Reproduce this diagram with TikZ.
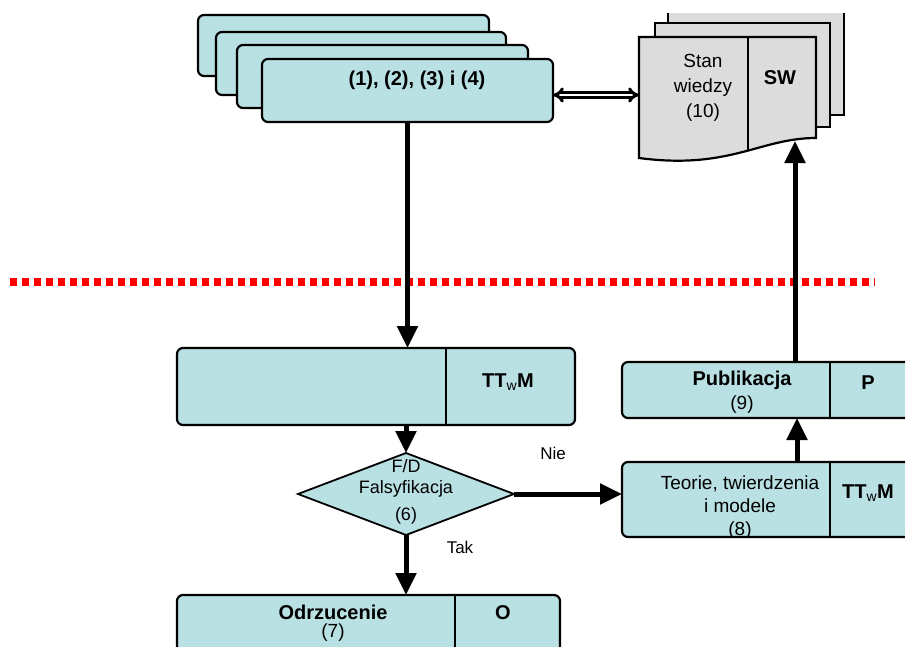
\documentclass[tikz,border=0pt]{standalone}
\usepackage{fontspec}
\setmainfont{Liberation Sans}
\usetikzlibrary{arrows.meta, shapes.geometric}
\definecolor{box_fill}{RGB}{185,224,227}
\definecolor{doc_fill}{RGB}{220,220,220}
\definecolor{red_line}{RGB}{255,0,0}
\tikzset{
  box/.style={draw, line width=2.2pt, rounded corners=6pt, fill=box_fill,
    inner sep=0pt, outer sep=0pt},
  doc/.style={draw, line width=2.2pt, fill=doc_fill},
  divider/.style={line width=2.2pt},
  decision/.style={diamond, draw, line width=1.8pt, fill=box_fill,
    inner sep=0pt, outer sep=0pt, minimum width=216pt, minimum height=82pt},
  flow/.style={-{Triangle[width=20pt,length=22pt]}, line width=5pt},
  both ways/.style={{Implies[scale=1.3]}-{Implies[scale=1.3]}, double,
    double distance=1.6pt, line width=3pt},
  plain text/.style={inner sep=0pt, align=center, font=\fontsize{19}{25}\selectfont},
  bold text/.style={plain text, font=\fontsize{20}{25}\selectfont\bfseries}
}

\begin{document}
\begin{tikzpicture}[x=1pt, y=-1pt]
\useasboundingbox (0,0) rectangle (905,646);
\clip (0,0) rectangle (905,646);

% Draw the stacked boxes (1)-(4)
\filldraw[box] (198,15) rectangle (489,76);
\filldraw[box] (216,32) rectangle (506,95);
\filldraw[box] (237,45) rectangle (528,108);
\node[box, minimum width=291pt, minimum height=63pt] (stack) at (407.5,90.5) {};
\node[bold text] (stacktext) at (417,80) {(1), (2), (3) i (4)};

% Draw the knowledge documents "Stan wiedzy"
\fill[doc_fill] (668,13) rectangle (844,115);
\draw[divider] (668,13) -- (668,115) -- (844,115) -- (844,13);
\filldraw[doc] (655,23) rectangle (830,127);
\filldraw[doc] (639,37) -- (816,37) -- (816,138)
  .. controls (760,138) and (730,170) .. (639,158) -- cycle;
\draw[divider] (748,37) -- (748,151);
\coordinate (docleft) at (639,95);
\coordinate (docbottom) at (795,141);
\node[plain text] (stan) at (703,88) {Stan\\wiedzy\\(10)};
\node[bold text] (swcode) at (780,78) {SW};

% Two-way link between the boxes and the documents
\draw[both ways] (stack.east |- docleft) -- (docleft);

% Red dotted separator
\draw[red_line, line width=8pt, dash pattern=on 7pt off 5pt] (10,282) -- (875,282);

% Box TTwM
\node[box, minimum width=398pt, minimum height=77pt] (ttwm) at (376,386.5) {};
\draw[divider] ([xshift=70pt]ttwm.north) -- ([xshift=70pt]ttwm.south);
\node[bold text] (ttwmcode) at (508,382) {TT\textsubscript{\normalfont w}M};

% Decision F/D
\node[decision] (falsyf) at (406,494) {};
\node[plain text, font=\fontsize{18}{21}\selectfont] (falsyftext) at (406,492)
  {F/D\\Falsyfikacja\\[6pt](6)};
\node[plain text, font=\fontsize{17}{20}\selectfont] (nie) at (553,453) {Nie};
\node[plain text, font=\fontsize{17}{20}\selectfont] (tak) at (460,547) {Tak};

% Box Odrzucenie
\node[box, minimum width=383pt, minimum height=77pt] (odrz) at (368.5,633.5) {};
\draw[divider] ([xshift=86.5pt]odrz.north) -- ([xshift=86.5pt]odrz.south);
\node[bold text] (odrztext) at (333,612) {Odrzucenie};
\node[plain text] (odrznum) at (333,633) {(7)};
\node[bold text] (odrzcode) at (503,613) {O};

% Box Teorie, twierdzenia i modele
\node[box, minimum width=308pt, minimum height=75pt] (teorie) at (776,499.5) {};
\draw[divider] ([xshift=54pt]teorie.north) -- ([xshift=54pt]teorie.south);
\begin{scope}
  \clip (622,462) rectangle (830,537);
  \node[plain text, font=\fontsize{19}{23}\selectfont] (teorietext) at (740,508)
    {Teorie, twierdzenia\\i modele\\(8)};
\end{scope}
\node[bold text] (teoriecode) at (868,493) {TT\textsubscript{\normalfont w}M};

% Box Publikacja
\node[box, minimum width=308pt, minimum height=56pt] (publ) at (776,390) {};
\draw[divider] ([xshift=54pt]publ.north) -- ([xshift=54pt]publ.south);
\node[bold text] (publtext) at (742,380) {Publikacja};
\node[plain text] (publnum) at (742,405) {(9)};
\node[bold text] (publcode) at (868,383) {P};

% Flow arrows
\draw[flow] (stack.south) -- (stack.south |- ttwm.north);
\draw[flow] (falsyf.north |- ttwm.south) -- (falsyf.north);
\draw[flow] (falsyf.south) -- (falsyf.south |- odrz.north);
\draw[flow] (falsyf.east) -- (falsyf.east -| teorie.west);
\draw[flow] ([xshift=21pt]teorie.north) -- ([xshift=21pt]teorie.north |- publ.south);
\draw[flow] ([xshift=19pt]publ.north) -- (docbottom);

\end{tikzpicture}
\end{document}
